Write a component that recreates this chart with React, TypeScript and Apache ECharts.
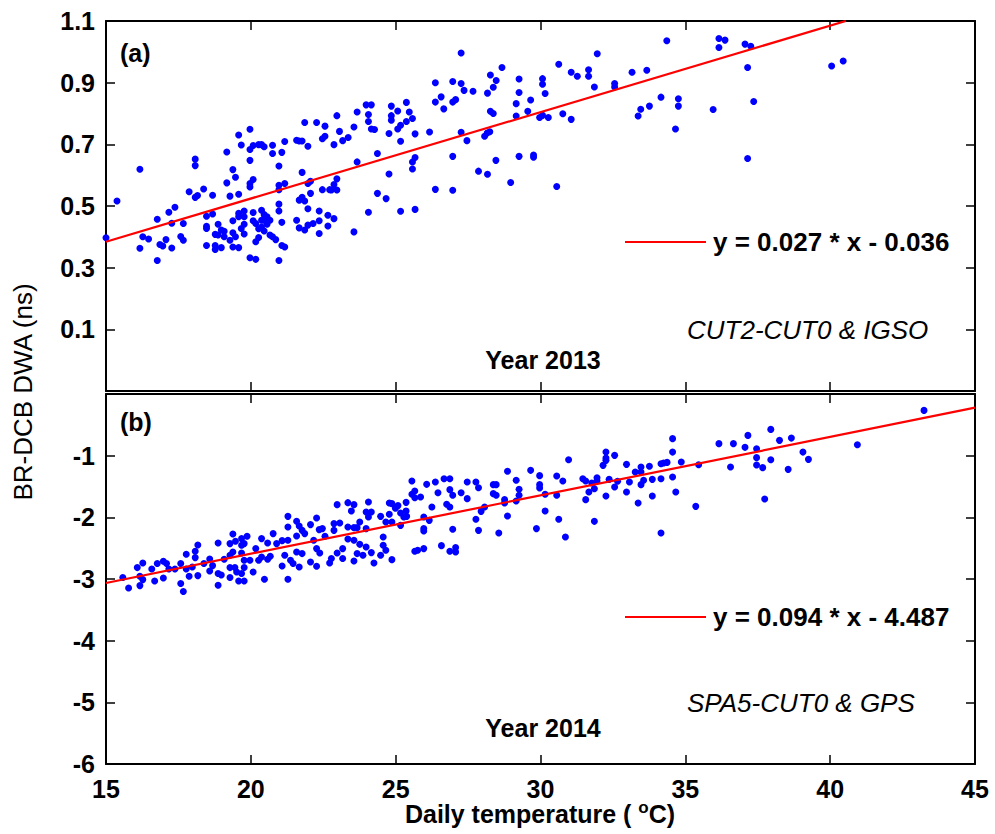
import React, { useEffect, useRef } from 'react';
import * as echarts from 'echarts';

// Panel (a): [daily temperature (°C), BR-DCB DWA (ns)]
const pointsA: number[][] = [
  [15.0, 0.397], [15.38, 0.516], [16.17, 0.619], [16.17, 0.363], [16.27, 0.4], [16.47, 0.393], [16.77, 0.457], [16.77, 0.323],
  [16.86, 0.375], [16.96, 0.37], [17.07, 0.391], [17.17, 0.48], [17.27, 0.444], [17.27, 0.364], [17.38, 0.496], [17.58, 0.401],
  [17.67, 0.443], [17.67, 0.389], [17.87, 0.546], [18.08, 0.652], [18.08, 0.631], [18.08, 0.528], [18.16, 0.534], [18.37, 0.555],
  [18.47, 0.467], [18.47, 0.434], [18.47, 0.427], [18.47, 0.372], [18.68, 0.535], [18.68, 0.474], [18.77, 0.408], [18.77, 0.372],
  [18.77, 0.359], [18.87, 0.441], [18.87, 0.406], [18.98, 0.422], [18.98, 0.365], [19.08, 0.418], [19.08, 0.4], [19.17, 0.675],
  [19.17, 0.575], [19.28, 0.532], [19.28, 0.389], [19.38, 0.618], [19.38, 0.452], [19.38, 0.413], [19.38, 0.367], [19.47, 0.593],
  [19.47, 0.4], [19.58, 0.73], [19.58, 0.538], [19.58, 0.476], [19.58, 0.465], [19.58, 0.365], [19.67, 0.698], [19.67, 0.427],
  [19.77, 0.484], [19.77, 0.465], [19.77, 0.441], [19.77, 0.409], [19.97, 0.749], [19.97, 0.683], [19.97, 0.648], [19.97, 0.573],
  [19.97, 0.562], [19.97, 0.332], [20.08, 0.696], [20.08, 0.586], [20.08, 0.479], [20.08, 0.452], [20.17, 0.443], [20.17, 0.384],
  [20.17, 0.327], [20.27, 0.699], [20.27, 0.426], [20.27, 0.398], [20.37, 0.699], [20.37, 0.486], [20.37, 0.454], [20.37, 0.432],
  [20.46, 0.692], [20.46, 0.472], [20.46, 0.454], [20.46, 0.419], [20.56, 0.465], [20.56, 0.441], [20.66, 0.454], [20.66, 0.406],
  [20.75, 0.697], [20.75, 0.67], [20.75, 0.4], [20.86, 0.391], [20.97, 0.63], [20.97, 0.567], [20.97, 0.553], [20.97, 0.506],
  [20.97, 0.484], [20.97, 0.323], [21.07, 0.674], [21.07, 0.447], [21.07, 0.372], [21.17, 0.709], [21.17, 0.573], [21.17, 0.367],
  [21.58, 0.713], [21.58, 0.454], [21.67, 0.711], [21.67, 0.519], [21.67, 0.429], [21.77, 0.711], [21.77, 0.609], [21.77, 0.528],
  [21.86, 0.771], [21.86, 0.422], [21.86, 0.516], [21.97, 0.694], [21.97, 0.573], [21.97, 0.491], [21.97, 0.438], [22.06, 0.58],
  [22.06, 0.541], [22.15, 0.443], [22.27, 0.771], [22.36, 0.484], [22.36, 0.452], [22.36, 0.411], [22.47, 0.718], [22.47, 0.553],
  [22.56, 0.759], [22.56, 0.726], [22.66, 0.47], [22.66, 0.435], [22.72, 0.553],
  [22.97, 0.793], [23.06, 0.742], [22.87, 0.699], [23.17, 0.712], [23.36, 0.722], [23.56, 0.756], [23.67, 0.805], [23.67, 0.643],
  [23.98, 0.828], [24.16, 0.828], [24.06, 0.797], [24.06, 0.774], [24.16, 0.75], [24.27, 0.748], [24.37, 0.67], [24.85, 0.824],
  [24.85, 0.793], [24.85, 0.778], [24.77, 0.735], [24.77, 0.604], [25.07, 0.808], [25.07, 0.75], [25.17, 0.762], [25.17, 0.71],
  [25.37, 0.836], [25.37, 0.774], [25.47, 0.805], [25.58, 0.784], [25.67, 0.734], [25.67, 0.657], [25.58, 0.643], [25.58, 0.62],
  [26.17, 0.74], [26.37, 0.9], [26.37, 0.837], [26.57, 0.854], [26.66, 0.815], [26.97, 0.904], [26.97, 0.837], [27.07, 0.845],
  [27.26, 0.996], [27.26, 0.897], [27.36, 0.875], [27.26, 0.739], [27.46, 0.712], [27.67, 0.872], [26.97, 0.661], [26.37, 0.554],
  [26.97, 0.551], [27.86, 0.613], [28.17, 0.603], [28.07, 0.726], [28.16, 0.737], [28.25, 0.741], [28.17, 0.866], [28.27, 0.925],
  [28.37, 0.885], [28.47, 0.907], [28.27, 0.807], [28.37, 0.8], [28.46, 0.648], [28.67, 0.949], [28.97, 0.576], [29.16, 0.832],
  [29.16, 0.792], [29.26, 0.912], [29.26, 0.868], [29.26, 0.661], [29.56, 0.807], [29.66, 0.844], [29.76, 0.665], [29.76, 0.658],
  [29.97, 0.787], [30.07, 0.913], [30.07, 0.895], [30.07, 0.794], [30.16, 0.865], [30.27, 0.787], [30.56, 0.563], [30.63, 0.96],
  [22.78, 0.552], [22.97, 0.588], [22.97, 0.552], [22.87, 0.57], [22.87, 0.459], [23.56, 0.416], [24.06, 0.48], [24.37, 0.541],
  [24.67, 0.524], [25.17, 0.483], [25.67, 0.489],
  [31.06, 0.934], [31.27, 0.921], [31.66, 0.942], [31.66, 0.921], [31.96, 0.994], [31.86, 0.886], [32.56, 0.897], [32.56, 0.886],
  [33.16, 0.934], [33.67, 0.94], [34.36, 1.036], [34.16, 0.853], [34.76, 0.848], [34.76, 0.824], [33.76, 0.824], [33.46, 0.814],
  [33.37, 0.792], [34.66, 0.75], [35.96, 0.813], [36.16, 1.043], [36.37, 1.038], [36.16, 1.014], [37.06, 1.025], [37.26, 1.018],
  [37.15, 0.949], [37.36, 0.839], [37.15, 0.654], [40.05, 0.954], [40.45, 0.97], [30.77, 0.799], [31.06, 0.781],
];

// Panel (b): [daily temperature (°C), BR-DCB DWA (ns)]
const pointsB: number[][] = [
  [15.58, -2.977], [15.78, -3.146], [16.08, -2.815], [16.17, -2.956], [16.17, -3.107], [16.27, -2.741], [16.27, -3.01], [16.58, -2.838],
  [16.68, -3.032], [16.77, -2.75], [16.98, -2.713], [16.98, -2.984], [17.09, -2.75], [17.17, -2.838], [17.38, -2.838], [17.58, -2.75],
  [17.58, -3.074], [17.67, -3.204], [17.77, -2.6], [17.77, -2.838], [17.87, -2.956], [17.98, -2.805], [18.08, -2.551], [18.08, -2.653],
  [18.17, -2.449], [18.17, -2.945], [18.38, -2.75], [18.58, -2.676], [18.58, -2.87], [18.68, -2.783], [18.87, -2.416], [18.87, -2.912],
  [18.87, -3.102], [18.98, -2.935], [19.08, -2.681], [19.28, -2.426], [19.28, -2.616], [19.28, -2.815], [19.28, -2.977], [19.38, -2.271],
  [19.38, -2.562], [19.45, -2.815], [19.47, -2.389], [19.51, -2.886], [19.58, -3.032], [19.68, -2.345], [19.68, -2.454], [19.68, -2.579],
  [19.68, -2.912], [19.77, -2.426], [19.77, -2.697], [19.77, -2.815], [19.77, -3.032], [19.87, -2.308], [19.97, -2.697], [20.08, -2.886],
  [20.17, -2.507], [20.27, -2.697], [20.37, -2.345], [20.37, -2.643], [20.47, -3.005], [20.58, -2.416], [20.58, -2.681], [20.67, -2.632],
  [20.77, -2.264], [20.89, -2.426], [21.08, -2.378], [21.08, -2.789], [21.17, -2.616], [21.28, -1.984], [21.28, -2.157], [21.28, -2.373],
  [21.28, -3.005], [21.37, -2.697], [21.46, -2.75], [21.58, -2.065], [21.58, -2.303], [21.58, -2.562], [21.67, -2.141], [21.67, -2.805],
  [21.77, -2.211], [21.77, -2.588], [21.86, -2.264], [22.06, -2.118], [22.06, -2.724], [22.17, -2.373], [22.27, -2.011], [22.27, -2.507],
  [22.27, -2.794], [22.36, -2.199], [22.38, -2.579], [22.47, -2.183], [22.56, -2.308], [22.72, -2.741],
  [22.78, -2.669], [22.87, -2.102], [22.87, -2.211], [22.98, -1.794], [22.98, -2.579], [23.07, -2.092], [23.17, -2.507], [23.17, -2.669],
  [23.35, -1.762], [23.35, -2.157], [23.35, -2.352], [23.47, -1.898], [23.56, -1.794], [23.56, -2.167], [23.56, -2.373], [23.56, -2.708],
  [23.67, -2.167], [23.67, -2.588], [23.76, -2.076], [23.76, -2.438], [23.87, -2.616], [23.98, -1.914], [23.98, -2.183], [23.98, -2.481],
  [24.06, -1.752], [24.06, -1.995], [24.16, -1.914], [24.16, -2.572], [24.25, -2.741], [24.48, -1.984], [24.48, -2.616], [24.57, -2.319],
  [24.57, -2.454], [24.66, -2.076], [24.66, -2.535], [24.78, -1.768], [24.78, -1.951], [24.87, -1.778], [24.87, -2.076], [24.87, -2.686],
  [24.99, -1.854], [25.08, -1.81], [25.17, -2.13], [25.17, -1.93], [25.28, -1.995], [25.36, -1.757], [25.36, -1.898], [25.38, -1.984],
  [25.56, -1.412], [25.56, -1.627], [25.66, -1.574], [25.66, -1.681], [25.66, -2.551], [25.76, -2.535], [25.86, -1.671], [25.97, -1.995],
  [25.97, -2.183], [25.97, -2.222], [25.97, -2.507], [26.07, -1.465], [26.16, -2.049], [26.25, -1.833], [26.37, -1.428], [26.46, -1.6],
  [26.58, -2.459], [26.67, -1.373], [26.76, -1.789], [26.87, -1.373], [26.87, -1.551], [26.87, -1.833], [26.87, -2.551], [26.97, -1.643],
  [26.97, -2.194], [27.07, -2.491], [27.07, -2.562], [27.26, -1.6], [27.47, -1.428], [27.47, -1.697], [27.77, -1.428], [27.77, -2.032],
  [27.86, -1.519], [27.86, -2.211], [27.95, -1.903], [28.07, -1.833], [28.37, -1.47], [28.37, -1.616], [28.47, -1.47], [28.47, -1.643],
  [28.56, -2.254], [28.76, -1.713], [28.76, -1.768], [28.86, -1.254], [28.86, -1.979], [29.16, -1.4], [29.16, -1.736], [29.26, -1.546],
  [29.26, -1.643], [29.66, -1.238], [29.86, -2.183], [29.97, -1.324], [29.97, -1.47], [29.97, -1.525], [30.16, -1.627], [30.16, -1.898],
  [30.56, -1.331], [30.56, -1.643], [30.63, -2.032],
  [30.77, -1.412], [30.86, -2.319], [30.97, -1.065], [31.46, -1.373], [31.56, -1.412], [31.56, -1.713], [31.67, -1.59], [31.77, -1.444],
  [31.86, -1.535], [31.86, -2.065], [31.95, -1.357], [31.95, -1.412], [32.16, -1.157], [32.26, -0.942], [32.26, -1.039], [32.26, -1.076],
  [32.26, -1.655], [32.37, -1.384], [32.56, -0.995], [32.56, -1.509], [32.66, -1.416], [32.97, -1.141], [32.97, -1.59], [33.07, -1.428],
  [33.27, -1.266], [33.37, -1.768], [33.47, -1.185], [33.47, -1.266], [33.47, -1.47], [33.56, -1.4], [33.76, -1.173], [33.86, -1.384],
  [33.86, -1.655], [34.16, -1.13], [34.16, -1.373], [34.16, -2.254], [34.25, -1.12], [34.37, -1.109], [34.56, -0.724], [34.56, -0.942],
  [34.56, -1.347], [34.67, -1.59], [34.86, -1.104], [35.36, -1.822], [35.46, -1.146], [36.16, -0.805], [36.56, -1.185], [36.66, -0.805],
  [37.06, -0.865], [37.16, -0.671], [37.46, -0.887], [37.46, -1.032], [37.46, -1.152], [37.67, -1.194], [37.74, -1.703], [37.95, -0.574],
  [37.95, -1.065], [38.25, -0.752], [38.55, -1.222], [38.66, -0.715], [39.06, -0.942], [39.25, -1.06], [40.94, -0.822], [43.24, -0.266],
];

// Fitted regression lines (end points)
const fitATemp = [15, 40.54];
const fitAValue = [0.384, 1.1];
const fitBTemp = [15, 45];
const fitBValue = [-3.065, -0.222];

const equationA = 'y = 0.027 * x - 0.036';
const equationB = 'y = 0.094 * x - 4.487';
const stationA = 'CUT2-CUT0 & IGSO';
const stationB = 'SPA5-CUT0 & GPS';
const yearA = 'Year 2013';
const yearB = 'Year 2014';

const FONT = '"Liberation Sans", Arial, Helvetica, sans-serif';

export default function App() {
  const ref = useRef<HTMLDivElement>(null);

  useEffect(() => {
    if (!ref.current) return;
    const chart = echarts.init(ref.current, undefined, { renderer: 'svg' });

    const axisLine = { show: true, onZero: false, lineStyle: { color: '#000', width: 2 } };
    const axisTick = { show: true, inside: true, length: 9, lineStyle: { color: '#000', width: 1.5 } };
    const noLabel = { show: false };
    const tickLabel = { show: true, color: '#000', fontFamily: FONT, fontWeight: 'bold' as const, fontSize: 25 };

    const xBase = (grid: number, pos: 'top' | 'bottom', labels: boolean) => ({
      type: 'value' as const,
      gridIndex: grid,
      position: pos,
      min: 15,
      max: 45,
      interval: 5,
      axisLine,
      axisTick,
      splitLine: { show: false },
      axisLabel: labels ? { ...tickLabel, margin: 12 } : noLabel,
    });

    const yA = (pos: 'left' | 'right', labels: boolean) => ({
      type: 'value' as const,
      gridIndex: 0,
      position: pos,
      min: -0.1,
      max: 1.1,
      interval: 0.2,
      axisLine,
      axisTick,
      splitLine: { show: false },
      axisLabel: labels
        ? { ...tickLabel, margin: 11, showMinLabel: true, showMaxLabel: true, formatter: (v: number) => (v < 0 ? '' : v.toFixed(1)) }
        : noLabel,
    });

    const yB = (pos: 'left' | 'right', labels: boolean) => ({
      type: 'value' as const,
      gridIndex: 1,
      position: pos,
      min: -6,
      max: 0,
      interval: 1,
      axisLine,
      axisTick,
      splitLine: { show: false },
      axisLabel: labels
        ? { ...tickLabel, margin: 11, showMinLabel: true, showMaxLabel: true, formatter: (v: number) => (Math.abs(v) < 1e-9 ? '' : String(Math.round(v))) }
        : noLabel,
    });

    const textStyle = (extra: any) => ({ fill: '#000', fontFamily: FONT, ...extra });

    chart.setOption({
      animation: false,
      backgroundColor: '#fff',
      grid: [
        { left: 106, top: 21, width: 869, height: 370 },
        { left: 106, top: 394, width: 869, height: 370 },
      ],
      xAxis: [xBase(0, 'bottom', false), xBase(0, 'top', false), xBase(1, 'bottom', true), xBase(1, 'top', false)],
      yAxis: [yA('left', true), yA('right', false), yB('left', true), yB('right', false)],
      series: [
        {
          type: 'scatter', xAxisIndex: 0, yAxisIndex: 0, data: pointsA,
          symbol: 'circle', symbolSize: 7, itemStyle: { color: '#0000ff', opacity: 1 }, silent: true,
        },
        {
          type: 'line', xAxisIndex: 0, yAxisIndex: 0,
          data: fitATemp.map((t, i) => [t, fitAValue[i]]),
          symbol: 'none', lineStyle: { color: '#ff0000', width: 2.2 }, silent: true, z: 3,
        },
        {
          type: 'scatter', xAxisIndex: 2, yAxisIndex: 2, data: pointsB,
          symbol: 'circle', symbolSize: 7, itemStyle: { color: '#0000ff', opacity: 1 }, silent: true,
        },
        {
          type: 'line', xAxisIndex: 2, yAxisIndex: 2,
          data: fitBTemp.map((t, i) => [t, fitBValue[i]]),
          symbol: 'none', lineStyle: { color: '#ff0000', width: 2.2 }, silent: true, z: 3,
        },
      ],
      graphic: [
        { type: 'text', x: 120, y: 53, style: textStyle({ text: '(a)', fontSize: 25, fontWeight: 'bold', textVerticalAlign: 'middle' }) },
        { type: 'text', x: 120, y: 422, style: textStyle({ text: '(b)', fontSize: 25, fontWeight: 'bold', textVerticalAlign: 'middle' }) },
        { type: 'line', shape: { x1: 625, y1: 242, x2: 706, y2: 242 }, style: { stroke: '#ff0000', lineWidth: 2.2 } },
        { type: 'text', x: 713, y: 242, style: textStyle({ text: equationA, fontSize: 26, fontWeight: 'bold', textVerticalAlign: 'middle' }) },
        { type: 'line', shape: { x1: 625, y1: 617, x2: 706, y2: 617 }, style: { stroke: '#ff0000', lineWidth: 2.2 } },
        { type: 'text', x: 713, y: 617, style: textStyle({ text: equationB, fontSize: 26, fontWeight: 'bold', textVerticalAlign: 'middle' }) },
        { type: 'text', x: 687, y: 330, style: textStyle({ text: stationA, fontSize: 26, fontStyle: 'italic', textVerticalAlign: 'middle' }) },
        { type: 'text', x: 687, y: 703, style: textStyle({ text: stationB, fontSize: 26, fontStyle: 'italic', textVerticalAlign: 'middle' }) },
        { type: 'text', x: 543, y: 360, style: textStyle({ text: yearA, fontSize: 25, fontWeight: 'bold', textAlign: 'center', textVerticalAlign: 'middle' }) },
        { type: 'text', x: 543, y: 728, style: textStyle({ text: yearB, fontSize: 25, fontWeight: 'bold', textAlign: 'center', textVerticalAlign: 'middle' }) },
        {
          type: 'text', x: 23, y: 392, rotation: Math.PI / 2,
          style: textStyle({ text: 'BR-DCB DWA (ns)', fontSize: 26, textAlign: 'center', textVerticalAlign: 'middle' }),
        },
        {
          type: 'text', x: 540, y: 814,
          style: {
            text: '{a|Daily temperature ( }{b|o}{a|C)}',
            textAlign: 'center',
            textVerticalAlign: 'middle',
            rich: {
              a: { fontSize: 25, fontWeight: 'bold', fontFamily: FONT, color: '#000', lineHeight: 30 },
              b: { fontSize: 17, fontWeight: 'bold', fontFamily: FONT, color: '#000', verticalAlign: 'top', lineHeight: 17 },
            },
          },
        },
      ],
    });

    return () => chart.dispose();
  }, []);

  return <div ref={ref} style={{ position: 'absolute', left: 0, top: 0, width: 995, height: 834 }} />;
}
